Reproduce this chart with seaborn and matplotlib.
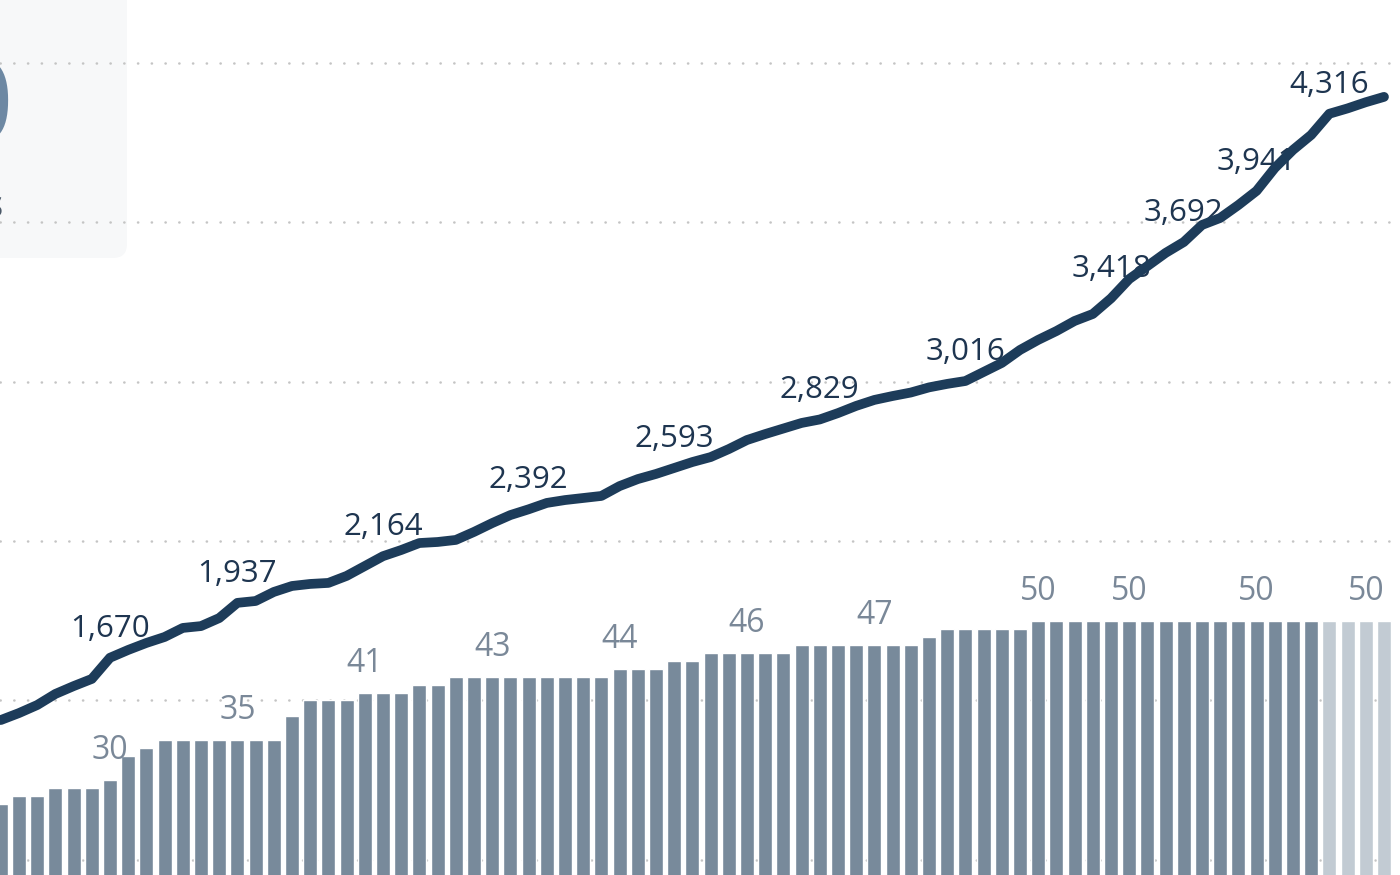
import numpy as np
import pandas as pd
import matplotlib.pyplot as plt
import seaborn as sns
from matplotlib.patches import FancyBboxPatch
from matplotlib.transforms import IdentityTransform

# Daily series (one entry per day shown in the crop)
day = list(range(77))

# states reporting (bars)
states = [27, 28, 28, 29, 29, 29, 30, 33, 34, 35, 35, 35, 35, 35, 35, 35,
          38, 40, 40, 40, 41, 41, 41, 42, 42, 43, 43, 43, 43, 43, 43, 43,
          43, 43, 44, 44, 44, 45, 45, 46, 46, 46, 46, 46, 47, 47, 47, 47,
          47, 47, 47, 48, 49, 49, 49, 49, 49, 50, 50, 50, 50, 50, 50, 50,
          50, 50, 50, 50, 50, 50, 50, 50, 50, 50, 50, 50, 50]

# last four days are still incomplete (lighter bars)
bar_kind = ['final'] * 73 + ['partial'] * 4

# cumulative total (line)
cases = [1367, 1401, 1440, 1494, 1532, 1567, 1670, 1708, 1742, 1771, 1815,
         1824, 1863, 1937, 1946, 1990, 2019, 2029, 2034, 2068, 2116, 2164,
         2194, 2228, 2233, 2243, 2282, 2325, 2364, 2392, 2423, 2437, 2447,
         2457, 2505, 2539, 2564, 2593, 2622, 2646, 2685, 2729, 2758, 2785,
         2812, 2829, 2860, 2895, 2924, 2943, 2960, 2985, 3002, 3016, 3060,
         3104, 3167, 3216, 3259, 3308, 3342, 3418, 3512, 3575, 3639, 3692,
         3775, 3809, 3872, 3941, 4052, 4140, 4213, 4316, 4342, 4372, 4398]

case_label_days = [6, 13, 21, 29, 37, 45, 53, 61, 65, 69, 73]
state_label_days = [6, 13, 20, 27, 34, 41, 48, 57, 62, 69, 75]

sns.set_style('white')
plt.rcParams['font.family'] = ['Open Sans', 'DejaVu Sans']

fig = plt.figure(figsize=(14, 8.75), dpi=100)

# rounded summary card in the top-left corner (mostly cropped)
card = FancyBboxPatch((-30, 617), 157, 300, boxstyle='round,pad=0,rounding_size=14',
                      transform=IdentityTransform(), facecolor='#f7f8f9',
                      edgecolor='none', zorder=0)
fig.add_artist(card)
fig.text(14, 734, '50', transform=IdentityTransform(), ha='right', va='baseline',
         fontsize=82, color='#6d88a3', fontweight='semibold', zorder=3)
fig.text(4, 658, 'states', transform=IdentityTransform(), ha='right', va='baseline',
         fontsize=27, color='#4a5868', fontweight='semibold', zorder=3)

ax = fig.add_axes([0, 0, 1, 1])
ax.set_zorder(1)
ax.patch.set_alpha(0)

sns.barplot(x=day, y=states, hue=bar_kind, dodge=False, width=0.77, saturation=1,
            palette={'final': '#788a9b', 'partial': '#c2cbd3'}, legend=False, ax=ax)

for d in state_label_days:
    ax.annotate(str(states[d]), (d, states[d]), xytext=(0, 21), textcoords='offset pixels',
                ha='center', va='baseline', fontsize=23, color='#7a8898')

ax.set_yticks(range(0, 140, 20))
ax.set_ylim(18.1, 127.9)
ax.yaxis.grid(True, color='#c4c4c4', linestyle=(0, (0.1, 5.4)), linewidth=1.8,
              dash_capstyle='round')
ax.set_axisbelow(True)

ax2 = ax.twinx()
sns.lineplot(x=day, y=cases, ax=ax2, color='#1d3c5a', linewidth=7,
             solid_capstyle='round', solid_joinstyle='round', zorder=3)
for d in case_label_days:
    ax2.annotate(f'{cases[d]:,}', (d, cases[d]), xytext=(0, 21), textcoords='offset pixels',
                 ha='center', va='baseline', fontsize=22.5, color='#1e3550', zorder=1)
ax2.set_ylim(613.3, 4869.2)

for a in (ax, ax2):
    a.set_xlim(-0.044, 76.88)
    a.set_xlabel('')
    a.set_ylabel('')
    a.tick_params(left=False, right=False, bottom=False,
                  labelleft=False, labelright=False, labelbottom=False)
    for s in a.spines.values():
        s.set_visible(False)

fig.savefig('out.png', dpi=100)
